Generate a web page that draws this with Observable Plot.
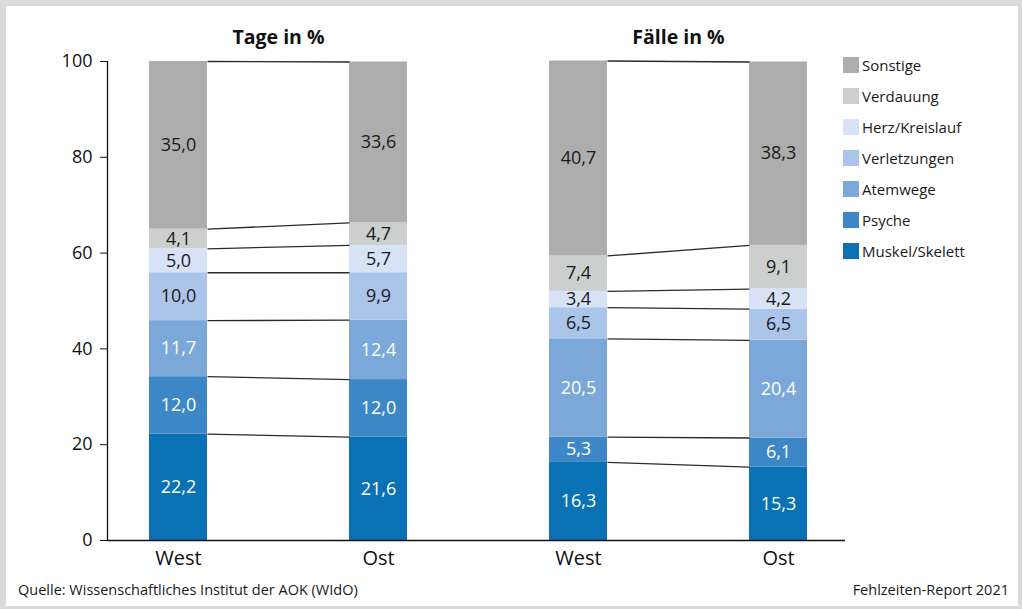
<!DOCTYPE html>
<html>
<head>
<meta charset="utf-8">
<script src="https://cdn.jsdelivr.net/npm/d3@7"></script>
<script src="https://cdn.jsdelivr.net/npm/@observablehq/plot@0.6"></script>
<style>
  html, body { margin: 0; padding: 0; background: #fff; }
  body { position: relative; width: 1022px; height: 609px; overflow: hidden; font-family: "Open Sans", sans-serif; color: #1a1a1a; }
  #frame {
    position: absolute; left: 0; top: 0; width: 1022px; height: 609px;
    box-sizing: border-box; border-style: solid; border-color: #dadada;
    border-width: 6px 4px 3px 6px;
  }
  #chart { position: absolute; left: 0; top: 0; }
  #chart svg { display: block; }
  #legend { position: absolute; left: 843px; top: 57px; }
  .item { display: flex; align-items: center; height: 16px; margin-bottom: 15px; font-size: 15px; }
  .sw { width: 16px; height: 16px; margin-right: 3px; flex: none; }
  .foot { position: absolute; top: 580px; font-size: 14.5px; color: #1a1a1a; line-height: 20px; }
</style>
</head>
<body>
<div id="frame"></div>
<div id="chart"></div>
<div id="legend"></div>
<div class="foot" style="left: 18px;">Quelle: Wissenschaftliches Institut der AOK (WIdO)</div>
<div class="foot" style="right: 13px;">Fehlzeiten-Report 2021</div>
<script>
// ---- data ----
const causes = ["Muskel/Skelett", "Psyche", "Atemwege", "Verletzungen", "Herz/Kreislauf", "Verdauung", "Sonstige"];
const causeColors = ["#0a71b4", "#3d87c6", "#7ba7d9", "#aac5e9", "#d7e2f6", "#cdcfce", "#adadad"];
const labelColors = ["#fff", "#fff", "#fff", "#1a1a1a", "#1a1a1a", "#1a1a1a", "#1a1a1a"];
const groups = ["West", "Ost", "West", "Ost"];
const panels = ["Tage in %", "Fälle in %"];
const tageWest = [22.2, 12.0, 11.7, 10.0, 5.0, 4.1, 35.0];
const tageOst = [21.6, 12.0, 12.4, 9.9, 5.7, 4.7, 33.6];
const faelleWest = [16.3, 5.3, 20.5, 6.5, 3.4, 7.4, 40.7];
const faelleOst = [15.3, 6.1, 20.4, 6.5, 4.2, 9.1, 38.3];
const yTicks = [0, 20, 40, 60, 80, 100];

// ---- derived tables ----
const series = [tageWest, tageOst, faelleWest, faelleOst];
const half = 0.145; // half bar width in x units
const segs = [];
series.forEach((vals, i) => {
  const cum = d3.cumsum(vals);
  vals.forEach((v, k) => {
    segs.push({i, k, cause: causes[k], value: v, y1: cum[k] - v, y2: cum[k]});
  });
});
const links = [];
[0, 2].forEach(i => {
  const a = d3.cumsum(series[i]), b = d3.cumsum(series[i + 1]);
  a.forEach((v, k) => links.push({x1: i + half, x2: i + 1 - half, y1: v, y2: b[k]}));
});
const titles = panels.map((t, p) => ({t, x: p * 2 + 0.5}));
const fmt = v => d3.format(".1f")(v).replace(".", ",");
const xDomain = [-0.355, 3.335];

const chart = Plot.plot({
  width: 1022,
  height: 575,
  marginTop: 61,
  marginBottom: 35,
  marginLeft: 107,
  marginRight: 177,
  style: {fontFamily: "'Open Sans', sans-serif", fontSize: "18px", color: "#1a1a1a", background: "transparent"},
  x: {type: "linear", domain: xDomain, axis: null},
  y: {domain: [0, 100], axis: null},
  marks: [
    Plot.rect(segs, {x1: d => d.i - half, x2: d => d.i + half, y1: "y1", y2: "y2",
      fill: d => causeColors[d.k]}),
    Plot.link(links, {x1: "x1", x2: "x2", y1: "y1", y2: "y2", stroke: "#2a2a2a", strokeWidth: 1.3}),
    Plot.text(segs, {x: "i", y: d => (d.y1 + d.y2) / 2, text: d => fmt(d.value),
      fill: d => labelColors[d.k], fontSize: 18}),
    Plot.text(titles, {x: "x", y: () => 100, text: "t", dy: -24, fontWeight: "bold", fontSize: 19.5, fill: "#111"}),
    Plot.axisY({ticks: yTicks, tickSize: 7, tickPadding: 8, fontSize: 18, stroke: "#111", fill: "#111"}),
    Plot.axisX({ticks: [0, 1, 2, 3], tickFormat: i => groups[i], tickSize: 0, tickPadding: 10, fontSize: 20, fill: "#111"}),
    Plot.ruleX([xDomain[0]], {y1: 0, y2: 100, stroke: "#111", strokeWidth: 1.3}),
    Plot.ruleY([0], {stroke: "#111", strokeWidth: 1.3})
  ]
});
document.getElementById("chart").appendChild(chart);

const legend = document.getElementById("legend");
causes.map((c, k) => ({c, k})).reverse().forEach(({c, k}) => {
  const row = document.createElement("div");
  row.className = "item";
  row.innerHTML = `<span class="sw" style="background:${causeColors[k]}"></span><span>${c}</span>`;
  legend.appendChild(row);
});
</script>
</body>
</html>
